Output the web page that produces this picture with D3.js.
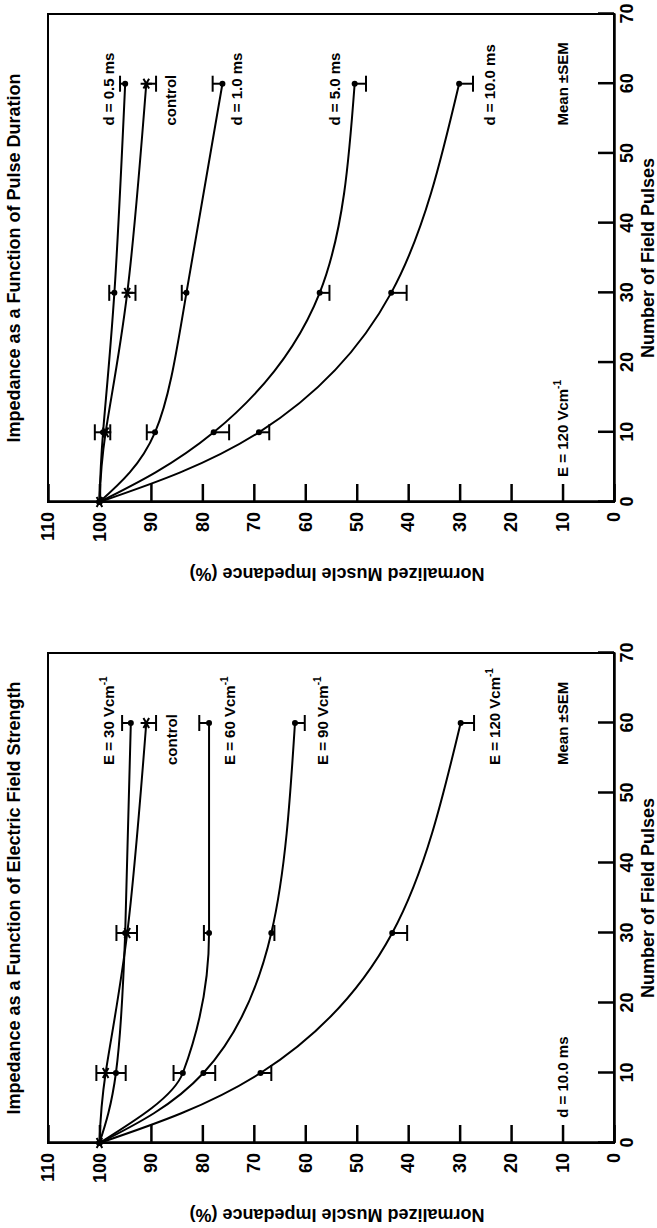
<!DOCTYPE html>
<html>
<head>
<meta charset="utf-8">
<script src="https://cdn.jsdelivr.net/npm/d3@7"></script>
<style>
    body { margin: 0; background: #fff; }
    svg text { font-family: "Liberation Sans", Arial, Helvetica, sans-serif; font-weight: bold; fill: #000; }
</style>
</head>
<body>
<div id="chart"></div>
<script>
// ---- data ----
var pulses = [0, 10, 30, 60];
var pulseTicks = [0, 10, 20, 30, 40, 50, 60, 70];
var impedanceTicks = [0, 10, 20, 30, 40, 50, 60, 70, 80, 90, 100, 110];

var durationTitle = 'Impedance as a Function of Pulse Duration';
var durationNames = ['d = 0.5 ms', 'control', 'd = 1.0 ms', 'd = 5.0 ms', 'd = 10.0 ms'];
var durationMeans = [
    [100, 99.3, 97.1, 95.0],
    [100, 98.8, 94.6, 90.9],
    [100, 89.2, 83.1, 76.1],
    [100, 77.8, 57.2, 50.4],
    [100, 69.0, 43.3, 30.1]
];
var durationSem = [
    [0, 1.6, 1.0, 1.0],
    [0, 0.9, 1.6, 1.9],
    [0, 1.6, 0.9, 1.9],
    [0, 3.0, 1.9, 2.2],
    [0, 2.0, 3.0, 2.7]
];
var durationNote = 'E = 120 Vcm^-1';

var fieldTitle = 'Impedance as a Function of Electric Field Strength';
var fieldNames = ['E = 30 Vcm^-1', 'control', 'E = 60 Vcm^-1', 'E = 90 Vcm^-1', 'E = 120 Vcm^-1'];
var fieldMeans = [
    [100, 96.8, 95.0, 93.9],
    [100, 98.8, 94.6, 90.9],
    [100, 83.8, 78.7, 78.7],
    [100, 79.8, 66.6, 62.0],
    [100, 68.7, 43.1, 29.8]
];
var fieldSem = [
    [0, 3.8, 1.7, 1.7],
    [0, 3.9, 1.9, 1.9],
    [0, 1.8, 1.0, 1.9],
    [0, 2.3, 0.6, 1.9],
    [0, 2.1, 2.9, 2.6]
];
var fieldNote = 'd = 10.0 ms';

// which side the SEM bar is drawn on (+1 above the mean, -1 below)
var semSide = [1, -1, 1, -1, -1];
var markers = ['dot', 'star', 'dot', 'dot', 'dot'];

// ---- layout ----
var plotLeft = 48,
    plotHeight = 566,
    capHalf = 8,
    labelPulse = 54,
    durationLabelAt = [98.1, 86.1, 73.4, 54.2, 24.1],
    fieldLabelAt = [98.1, 86.0, 74.6, 56.7, 23.2],
    // smooth fitted curves; the flat 60 Vcm-1 run needs a monotone one
    durationCurves = ['natural', 'natural', 'natural', 'natural', 'natural'],
    fieldCurves = ['natural', 'natural', 'monotone', 'natural', 'natural'];

var svg = d3.select('#chart').append('svg')
    .attr('width', 657)
    .attr('height', 1228);

svg.append('rect')
    .attr('width', 657)
    .attr('height', 1228)
    .attr('fill', '#fff');

function putLabel(sel, str) {
    var parts = str.split('^');
    sel.append('tspan').text(parts[0]);
    if (parts[1]) {
        sel.append('tspan')
            .attr('font-size', 10)
            .attr('dy', -7)
            .text(parts[1]);
    }
}

function drawChart(cfg) {
    var W = cfg.width,
        H = plotHeight,
        x = d3.scaleLinear().domain([0, 70]).range([0, W]),
        y = d3.scaleLinear().domain([0, 110]).range([H, 0]),
        // the whole figure is printed turned a quarter turn
        chart = svg.append('g')
            .attr('transform', 'translate(' + plotLeft + ',' + cfg.origin + ') rotate(-90)');

    chart.append('rect')
        .attr('width', W)
        .attr('height', H)
        .attr('fill', 'none')
        .attr('stroke', '#000')
        .attr('stroke-width', 2);

    var yAxis = d3.axisLeft(y)
            .tickValues(impedanceTicks)
            .tickSize(-18)
            .tickSizeOuter(0)
            .tickPadding(10),
        xAxis = d3.axisBottom(x)
            .tickValues(pulseTicks)
            .tickSize(-16)
            .tickSizeOuter(0)
            .tickPadding(6);

    var yy = chart.append('g').call(yAxis),
        xx = chart.append('g')
            .attr('transform', 'translate(0,' + H + ')')
            .call(xAxis);

    [yy, xx].forEach(function(ax) {
        ax.attr('font-size', null).attr('font-family', null);
        ax.selectAll('line, path')
            .attr('stroke', '#000')
            .attr('stroke-width', 2.5);
        ax.selectAll('text')
            .style('font-size', '18px');
    });

    chart.append('text')
        .attr('x', W / 2)
        .attr('y', -28)
        .attr('text-anchor', 'middle')
        .style('font-size', '18px')
        .text(cfg.title);

    chart.append('text')
        .attr('x', W / 2)
        .attr('y', H + 40)
        .attr('text-anchor', 'middle')
        .style('font-size', '18px')
        .text('Number of Field Pulses');

    chart.append('text')
        .attr('transform', 'translate(-66,' + (H / 2 + 6) + ') rotate(-90)')
        .attr('text-anchor', 'middle')
        .style('font-size', '18px')
        .text('Normalized Muscle Impedance (%)');

    var curveTypes = {natural: d3.curveNatural, monotone: d3.curveMonotoneX};

    var series = cfg.means.map(function(vals, i) {
        return {
            name: cfg.names[i],
            marker: markers[i],
            labelAt: cfg.labelAt[i],
            curve: curveTypes[cfg.curves[i]],
            points: vals.map(function(v, j) {
                return [pulses[j], v, v + semSide[i] * cfg.sem[i][j]];
            })
        };
    });

    var group = chart.selectAll('.series')
        .data(series)
        .enter()
        .append('g')
        .attr('class', 'series');

    group.append('path')
        .attr('d', function(d) {
            return d3.line()
                .x(function(p) { return x(p[0]); })
                .y(function(p) { return y(p[1]); })
                .curve(d.curve)(d.points);
        })
        .attr('fill', 'none')
        .attr('stroke', '#000')
        .attr('stroke-width', 2);

    var bars = group.selectAll('.err')
        .data(function(d) { return d.points.filter(function(p) { return p[2] !== p[1]; }); })
        .enter()
        .append('g')
        .attr('class', 'err')
        .attr('stroke', '#000')
        .attr('stroke-width', 2);

    bars.append('line')
        .attr('x1', function(d) { return x(d[0]); })
        .attr('x2', function(d) { return x(d[0]); })
        .attr('y1', function(d) { return y(d[1]); })
        .attr('y2', function(d) { return y(d[2]); });

    bars.append('line')
        .attr('x1', function(d) { return x(d[0]) - capHalf; })
        .attr('x2', function(d) { return x(d[0]) + capHalf; })
        .attr('y1', function(d) { return y(d[2]); })
        .attr('y2', function(d) { return y(d[2]); });

    group.each(function(s) {
        var g = d3.select(this);
        if (s.marker === 'star') {
            g.selectAll('.mk')
                .data(s.points)
                .enter()
                .append('path')
                .attr('class', 'mk')
                .attr('transform', function(d) { return 'translate(' + x(d[0]) + ',' + y(d[1]) + ')'; })
                .attr('d', d3.symbol().type(d3.symbolAsterisk).size(90))
                .attr('fill', 'none')
                .attr('stroke', '#000')
                .attr('stroke-width', 2);
        } else {
            g.selectAll('.mk')
                .data(s.points)
                .enter()
                .append('circle')
                .attr('class', 'mk')
                .attr('cx', function(d) { return x(d[0]); })
                .attr('cy', function(d) { return y(d[1]); })
                .attr('r', 3)
                .attr('fill', '#000');
        }
    });

    group.append('text')
        .attr('x', x(labelPulse))
        .attr('y', function(d) { return y(d.labelAt); })
        .attr('dy', '0.35em')
        .style('font-size', '15px')
        .each(function(d) { putLabel(d3.select(this), d.name); });

    chart.append('text')
        .attr('x', x(labelPulse))
        .attr('y', y(10))
        .attr('dy', '0.35em')
        .style('font-size', '15px')
        .text('Mean \u00b1SEM');

    putLabel(chart.append('text')
        .attr('x', x(3.6))
        .attr('y', y(10))
        .attr('dy', '0.35em')
        .style('font-size', '15px'), cfg.note);
}

drawChart({
    origin: 502,
    width: 488,
    title: durationTitle,
    names: durationNames,
    means: durationMeans,
    sem: durationSem,
    labelAt: durationLabelAt,
    curves: durationCurves,
    note: durationNote
});

drawChart({
    origin: 1143,
    width: 490,
    title: fieldTitle,
    names: fieldNames,
    means: fieldMeans,
    sem: fieldSem,
    labelAt: fieldLabelAt,
    curves: fieldCurves,
    note: fieldNote
});
</script>
</body>
</html>
